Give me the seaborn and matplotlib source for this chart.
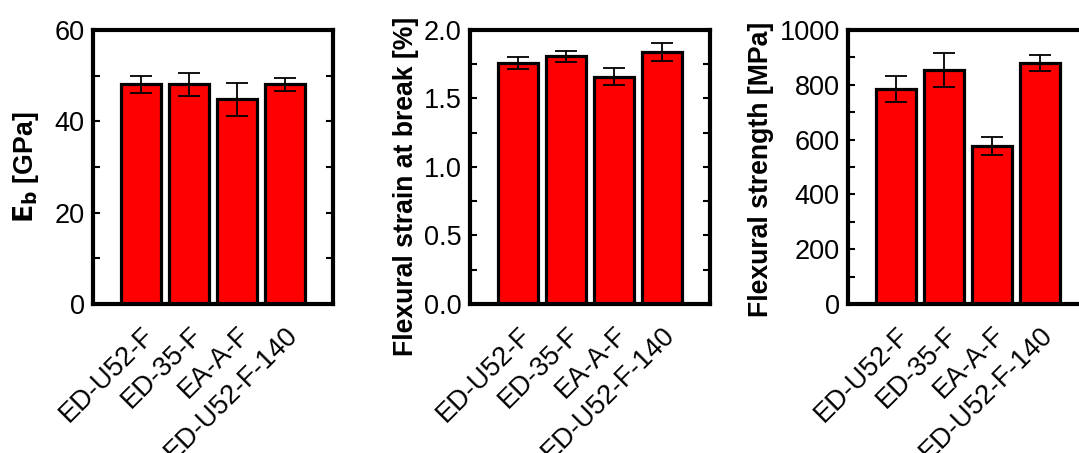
import matplotlib
matplotlib.use("Agg")
import matplotlib.pyplot as plt
import numpy as np
import pandas as pd
import seaborn as sns

# samples (same for all three panels)
samples = ["ED-U52-F", "ED-35-F", "EA-A-F", "ED-U52-F-140"]

# flexural modulus E_b [GPa]
modulus = [48.1, 48.1, 44.8, 48.1]
modulus_err = [1.9, 2.5, 3.6, 1.4]

# flexural strain at break [%]
strain = [1.757, 1.808, 1.659, 1.839]
strain_err = [0.042, 0.040, 0.063, 0.068]

# flexural strength [MPa]
strength = [784, 853, 577, 880]
strength_err = [47, 63, 32, 29]

sns.set_style("ticks")
plt.rcParams['font.family'] = ['Liberation Sans', 'DejaVu Sans']
plt.rcParams.update({"text.color": "black", "axes.labelcolor": "black",
                     "xtick.color": "black", "ytick.color": "black",
                     "axes.edgecolor": "black"})

fig = plt.figure(figsize=(10.79, 4.53), dpi=100)

# (values, errors, ylabel, ylim, yticks, tick format, axes left, ylabel xy in axes coords)
panels = [
    (modulus, modulus_err, r"$\mathbf{E_b}$ [GPa]", (0, 60), [0, 20, 40, 60], None, 0.0862, (-0.216, 0.5)),
    (strain, strain_err, "Flexural strain at break [%]", (0, 2.0), [0.0, 0.5, 1.0, 1.5, 2.0], "{:.1f}", 0.4356, (-0.214, 0.43)),
    (strength, strength_err, "Flexural strength [MPa]", (0, 1000), [0, 200, 400, 600, 800, 1000], None, 0.7859, (-0.308, 0.49)),
]

for vals, errs, label, ylim, yticks, fmt, left, label_xy in panels:
    ax = fig.add_axes([left, 0.329, 0.2224, 0.605])
    df = pd.DataFrame({"sample": samples, "value": vals})
    sns.barplot(data=df, x="sample", y="value", color="#ff0000", saturation=1,
                edgecolor="black", linewidth=2.3, width=0.83, ax=ax)
    ax.errorbar(np.arange(len(samples)), vals, yerr=errs, fmt="none",
                ecolor="black", elinewidth=1.3, capsize=8, capthick=1.3)

    ax.set_xlim(-1, 4)
    ax.set_ylim(*ylim)
    ax.set_yticks(yticks)
    minor = [(a + b) / 2 for a, b in zip(yticks[:-1], yticks[1:])]
    ax.set_yticks(minor, minor=True)
    if fmt:
        ax.set_yticklabels([fmt.format(t) for t in yticks])
    ax.set_xlabel("")
    ax.set_ylabel(label, fontsize=19.2, fontweight="bold")
    ax.yaxis.set_label_coords(*label_xy)

    ax.tick_params(axis="y", which="both", direction="in", length=5, width=1.5,
                   right=True, labelsize=19.5, pad=6)
    ax.tick_params(axis="x", length=0, labelsize=19.5, pad=13)
    for t in ax.get_xticklabels():
        t.set_rotation(45)
        t.set_ha("right")
        t.set_rotation_mode("anchor")

    for sp in ax.spines.values():
        sp.set_visible(True)
        sp.set_linewidth(3)

fig.savefig("out.png", dpi=100)
